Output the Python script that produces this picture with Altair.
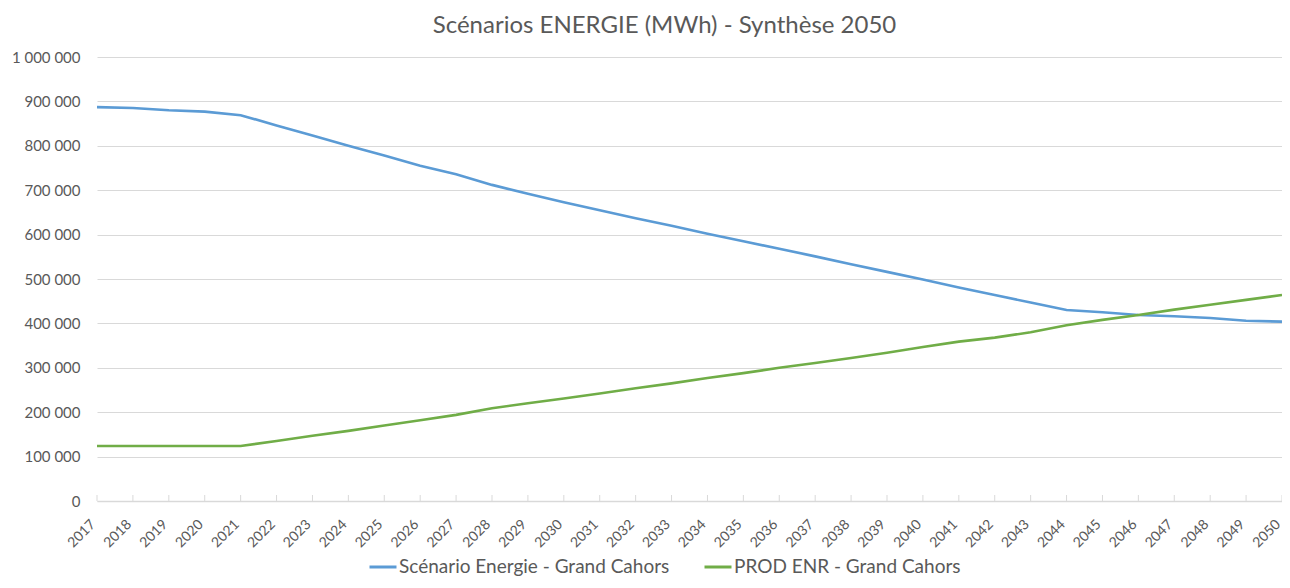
import altair as alt
import pandas as pd

years = list(range(2017, 2051))

scenario_energie = [
    887000, 885000, 880000, 877000, 869000, 846000, 823000, 800000, 778000, 755000,
    736000, 712000, 692000, 673000, 655000, 637000, 620000, 602000, 585000, 568000,
    551000, 533000, 516000, 499000, 481000, 464000, 447000, 430000, 425000, 419000,
    416000, 412000, 406000, 404000,
]

prod_enr = [
    124000, 124000, 124000, 124000, 124000, 135000, 147000, 158000, 170000, 182000,
    194000, 209000, 220000, 231000, 242000, 254000, 265000, 277000, 288000, 300000,
    311000, 322000, 334000, 347000, 359000, 368000, 380000, 396000, 408000, 419000,
    431000, 442000, 453000, 464000,
]

series_names = ["Scénario Energie - Grand Cahors", "PROD ENR - Grand Cahors"]
series_colors = ["#5b9bd5", "#70ad47"]

rows = []
for name, vals in zip(series_names, [scenario_energie, prod_enr]):
    for y, v in zip(years, vals):
        rows.append({"Année": str(y), "Valeur": v, "Série": name})
df = pd.DataFrame(rows)
df_years = pd.DataFrame({"Année": [str(y) for y in years]})

FONT = "Lato"
GRAY = "#595959"
LIGHT = "#d9d9d9"

x_scale = alt.Scale(type="point", padding=0)
x_sort = [str(y) for y in years]

lines = (
    alt.Chart(df)
    .mark_line(strokeWidth=2.6)
    .encode(
        x=alt.X(
            "Année:O",
            sort=x_sort,
            scale=x_scale,
            axis=alt.Axis(
                title=None,
                labelAngle=-45,
                labelAlign="right",
                labelBaseline="middle",
                labelFontSize=14,
                labelColor=GRAY,
                labelFont=FONT,
                labelPadding=21,
                labelOffset=-4,
                domainColor=LIGHT,
                domainWidth=1.3,
                ticks=False,
                grid=False,
            ),
        ),
        y=alt.Y(
            "Valeur:Q",
            scale=alt.Scale(domain=[0, 1000000]),
            axis=alt.Axis(
                title=None,
                values=list(range(0, 1000001, 100000)),
                labelExpr="replace(format(datum.value, ','), regexp(',', 'g'), ' ')",
                labelFontSize=15,
                labelColor=GRAY,
                labelFont=FONT,
                labelPadding=17,
                domain=False,
                ticks=False,
                gridColor=LIGHT,
                gridWidth=1,
            ),
        ),
        color=alt.Color(
            "Série:N",
            scale=alt.Scale(domain=series_names, range=series_colors),
            legend=alt.Legend(
                title=None,
                orient="none",
                direction="horizontal",
                legendX=271,
                legendY=495,
                symbolType="stroke",
                symbolSize=729,
                symbolStrokeWidth=3,
                labelFontSize=19,
                labelColor=GRAY,
                labelFont=FONT,
                labelOffset=1,
                labelLimit=0,
                columnPadding=28,
            ),
        ),
    )
)

ticks = (
    alt.Chart(df_years)
    .mark_rule(color=LIGHT, strokeWidth=1)
    .encode(
        x=alt.X("Année:O", sort=x_sort, scale=x_scale),
        y=alt.value(438),
        y2=alt.value(444),
    )
)

chart = (
    alt.layer(ticks, lines)
    .properties(
        width=1185,
        height=444,
        autosize="none",
        padding={"left": 89, "top": 49, "right": 0, "bottom": 75},
        title=alt.TitleParams(
            "Scénarios ENERGIE (MWh) - Synthèse 2050",
            fontSize=24,
            font=FONT,
            fontWeight="normal",
            color=GRAY,
            anchor="middle",
            dx=-25,
            offset=12,
        ),
    )
    .configure_view(stroke=None)
)

chart.save("out.html", embed_options={"renderer": "svg", "actions": False})
